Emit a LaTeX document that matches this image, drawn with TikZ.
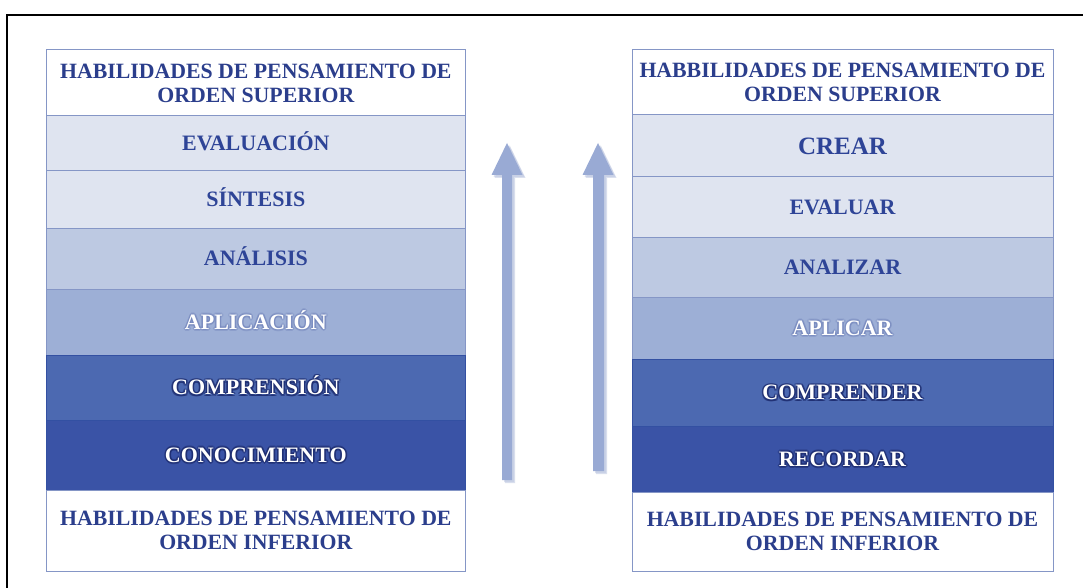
\documentclass[tikz,border=0pt]{standalone}
\usepackage{fontspec}
\setmainfont{Liberation Serif}
\definecolor{hdrtext}{HTML}{2B3E8C}
\definecolor{lighttext}{HTML}{2E4497}
\definecolor{rowA}{HTML}{DFE4F0}
\definecolor{rowB}{HTML}{BDC9E2}
\definecolor{rowC}{HTML}{9DAFD6}
\definecolor{rowD}{HTML}{4C69B1}
\definecolor{rowE}{HTML}{3A53A6}
\definecolor{rowline}{HTML}{8596C6}
\definecolor{darkline}{HTML}{3350A2}
\definecolor{arrowc}{HTML}{99AAD4}
\definecolor{arrowsh}{HTML}{B9C3DF}
\definecolor{glowdark}{HTML}{1E2D70}
\definecolor{glowlight}{HTML}{7385BC}
\tikzset{
  rowbox/.style={draw=rowline, line width=1pt, inner sep=0pt, outer sep=0pt, anchor=north west},
  darkbox/.style={rowbox, draw=darkline},
  lbl/.style={font=\fontsize{22}{24}\selectfont\bfseries, inner sep=0pt, text height=14.6pt, text depth=0pt},
  biglbl/.style={lbl, font=\fontsize{25}{28}\selectfont\bfseries, text height=16.6pt},
  hdr/.style={font=\fontsize{21.8}{24}\selectfont\bfseries, align=center, inner sep=0pt, text=hdrtext},
}
\newcommand{\glowtxt}[4]{%
  \foreach \a in {0,45,...,315}{%
    \node[lbl, text=#3, opacity=#4] at ([shift={(\a:1.7)}]#1.center) {#2};}%
  \node[lbl, text=white] at (#1.center) {#2};}
\begin{document}
\begin{tikzpicture}[x=1pt, y=-1pt]
\useasboundingbox (0,0) rectangle (1083,588);
\fill[white] (0,0) rectangle (1083,588);
% outer frame (cropped: only top and left visible)
\draw[line width=2pt] (7,588) -- (7,15) -- (1083,15);

% ---------------- left column ----------------
\node[rowbox, fill=white, minimum width=418.3pt, minimum height=66pt] (lh) at (46.7,50) {};
\node[hdr] (lht) at (lh.center) {HABILIDADES DE PENSAMIENTO DE\\ORDEN SUPERIOR};
\node[rowbox, fill=rowA, minimum width=418.3pt, minimum height=55pt] (l1) at (46.7,116) {};
\node[lbl, text=lighttext] (l1t) at (l1.center) {EVALUACIÓN};
\node[rowbox, fill=rowA, minimum width=418.3pt, minimum height=57pt] (l2) at (46.7,171) {};
\node[lbl, text=lighttext] (l2t) at (l2.center) {SÍNTESIS};
\node[rowbox, fill=rowB, minimum width=418.3pt, minimum height=61pt] (l3) at (46.7,228) {};
\node[lbl, text=lighttext] (l3t) at (l3.center) {ANÁLISIS};
\node[rowbox, fill=rowC, minimum width=418.3pt, minimum height=66pt] (l4) at (46.7,289) {};
\glowtxt{l4}{APLICACIÓN}{glowlight}{0.4}
\node[darkbox, fill=rowD, minimum width=418.3pt, minimum height=65pt] (l5) at (46.7,355) {};
\glowtxt{l5}{COMPRENSIÓN}{glowdark}{0.6}
\node[darkbox, fill=rowE, minimum width=418.3pt, minimum height=70pt] (l6) at (46.7,420) {};
\glowtxt{l6}{CONOCIMIENTO}{glowdark}{0.6}
\node[rowbox, fill=white, minimum width=418.3pt, minimum height=81pt] (lb) at (46.7,490) {};
\node[hdr] (lbt) at (lb.center) {HABILIDADES DE PENSAMIENTO DE\\ORDEN INFERIOR};

% ---------------- right column ----------------
\node[rowbox, fill=white, minimum width=421pt, minimum height=65pt] (rh) at (632,50) {};
\node[hdr] (rht) at (rh.center) {HABBILIDADES DE PENSAMIENTO DE\\ORDEN SUPERIOR};
\node[rowbox, fill=rowA, minimum width=421pt, minimum height=62pt] (r1) at (632,115) {};
\node[biglbl, text=lighttext] (r1t) at (r1.center) {CREAR};
\node[rowbox, fill=rowA, minimum width=421pt, minimum height=60pt] (r2) at (632,177) {};
\node[lbl, text=lighttext] (r2t) at (r2.center) {EVALUAR};
\node[rowbox, fill=rowB, minimum width=421pt, minimum height=60pt] (r3) at (632,237) {};
\node[lbl, text=lighttext] (r3t) at (r3.center) {ANALIZAR};
\node[rowbox, fill=rowC, minimum width=421pt, minimum height=62pt] (r4) at (632,297) {};
\glowtxt{r4}{APLICAR}{glowlight}{0.4}
\node[darkbox, fill=rowD, minimum width=421pt, minimum height=67pt] (r5) at (632,359) {};
\glowtxt{r5}{COMPRENDER}{glowdark}{0.6}
\node[darkbox, fill=rowE, minimum width=421pt, minimum height=66pt] (r6) at (632,426) {};
\glowtxt{r6}{RECORDAR}{glowdark}{0.6}
\node[rowbox, fill=white, minimum width=421pt, minimum height=79pt] (rb) at (632,492) {};
\node[hdr] (rbt) at (rb.center) {HABILIDADES DE PENSAMIENTO DE\\ORDEN INFERIOR};

% ---------------- arrows ----------------
\foreach \s in {3,2}{
  \fill[arrowsh, opacity=0.5, shift={(\s,\s)}]
    (502,480) -- (502,175) -- (491.5,175) -- (507,143) -- (522.5,175) -- (512,175) -- (512,480) -- cycle;
  \fill[arrowsh, opacity=0.5, shift={(\s,\s)}]
    (593,471) -- (593,175) -- (582.5,175) -- (598,143) -- (613.5,175) -- (604,175) -- (604,471) -- cycle;
}
\fill[arrowc] (502,480) -- (502,175) -- (491.5,175) -- (507,143) -- (522.5,175) -- (512,175) -- (512,480) -- cycle;
\fill[arrowc] (593,471) -- (593,175) -- (582.5,175) -- (598,143) -- (613.5,175) -- (604,175) -- (604,471) -- cycle;
\end{tikzpicture}
\end{document}
